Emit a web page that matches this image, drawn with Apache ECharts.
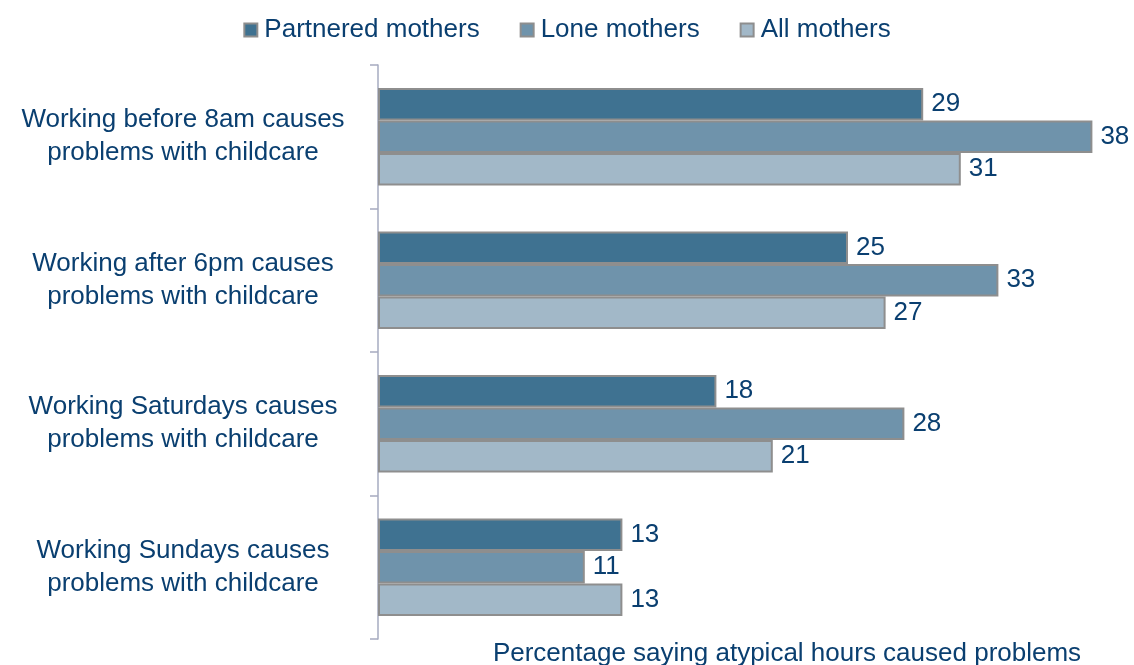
<!DOCTYPE html>
<html>
<head>
<meta charset="utf-8">
<title>Atypical hours and childcare</title>
<script src="https://cdn.jsdelivr.net/npm/echarts@6/dist/echarts.min.js"></script>
<style>
  html, body { margin: 0; padding: 0; background: #fff; }
  #chart { width: 1134px; height: 665px; }
</style>
</head>
<body>
<div id="chart"></div>
<script>
  // data
  var categories = [
    'Working before 8am causes\nproblems with childcare',
    'Working after 6pm causes\nproblems with childcare',
    'Working Saturdays causes\nproblems with childcare',
    'Working Sundays causes\nproblems with childcare'
  ]
  var partnered = [29, 25, 18, 13]
  var lone = [38, 33, 28, 11]
  var allMothers = [31, 27, 21, 13]
  var seriesNames = ['Partnered mothers', 'Lone mothers', 'All mothers']
  var colors = ['#3f7291', '#6f93ab', '#a2b8c8']

  var textColor = '#0a3f70'
  var font = 'Liberation Sans, Arial, sans-serif'
  var fontSize = 26

  var chart = echarts.init(document.getElementById('chart'))

  function bar(name, data, color) {
    return {
      name: name,
      type: 'bar',
      data: data,
      barGap: '0%',
      barCategoryGap: '32%',
      itemStyle: {
        color: color,
        borderColor: '#8e8e8e',
        borderWidth: 2
      },
      label: {
        show: true,
        position: 'right',
        distance: 8,
        color: textColor,
        fontSize: fontSize,
        fontFamily: font
      }
    }
  }

  chart.setOption({
    animation: false,
    textStyle: { fontFamily: font },
    legend: {
      data: seriesNames,
      top: 12,
      left: 'center',
      itemWidth: 13,
      itemHeight: 13,
      itemGap: 40,
      icon: 'rect',
      itemStyle: { borderColor: '#8e8e8e', borderWidth: 2 },
      textStyle: { color: textColor, fontSize: fontSize, fontFamily: font, padding: [0, 0, 0, 2] }
    },
    grid: {
      left: 378,
      right: 4,
      top: 65,
      bottom: 26,
      containLabel: false,
      outerBoundsMode: 'none'
    },
    xAxis: {
      type: 'value',
      min: 0,
      max: 40,
      axisLine: { show: false },
      axisTick: { show: false },
      axisLabel: { show: false },
      splitLine: { show: false },
      name: 'Percentage saying atypical hours caused problems',
      nameLocation: 'middle',
      nameGap: 2,
      nameTextStyle: {
        color: textColor,
        fontSize: fontSize,
        fontFamily: font,
        verticalAlign: 'top',
        padding: [0, 0, 0, 66]
      }
    },
    yAxis: {
      type: 'category',
      data: categories,
      inverse: true,
      axisLine: { show: true, lineStyle: { color: '#a6abc0', width: 1.5 } },
      axisTick: { show: true, interval: 0, alignWithLabel: false, length: 8, lineStyle: { color: '#a6abc0', width: 1.5 } },
      axisLabel: {
        color: textColor,
        fontSize: fontSize,
        fontFamily: font,
        align: 'center',
        margin: 195,
        lineHeight: 33
      }
    },
    series: [
      bar(seriesNames[0], partnered, colors[0]),
      bar(seriesNames[1], lone, colors[1]),
      bar(seriesNames[2], allMothers, colors[2])
    ]
  })
</script>
</body>
</html>
